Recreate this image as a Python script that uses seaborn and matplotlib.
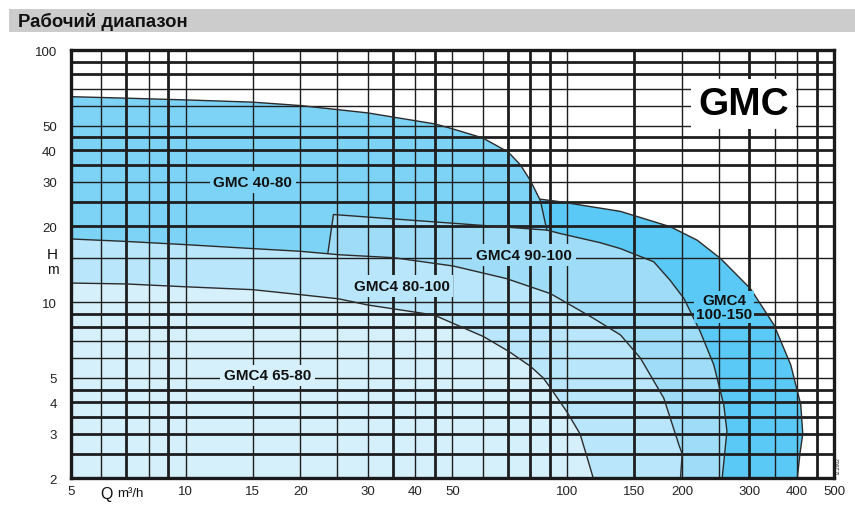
import matplotlib
matplotlib.use("Agg")
import matplotlib.pyplot as plt
from matplotlib.ticker import NullLocator, FixedLocator, FixedFormatter
import seaborn as sns

# ---------------- data ----------------
q_40_80 = [5, 7, 10, 15, 20, 30, 45, 49.3, 60, 70, 75.3, 80, 85, 88.4]
h_40_80 = [65.3, 64.4, 63.4, 62.1, 60.2, 56.3, 50.9, 49.0, 44.8, 39.4, 35.1, 30.4, 25.3, 19.3]

q_100_150 = [85, 95.9, 137.8, 186.3, 219, 252, 302, 348, 385, 409, 414, 407, 400.6]
h_100_150 = [25.6, 25.0, 22.9, 19.9, 17.6, 14.9, 11.3, 8.12, 5.64, 3.92, 3.0, 2.5, 2.0]

q_90_100 = [23.6, 24.4, 88.4, 95.9, 122, 137.8, 168.5, 186, 202, 223, 242, 257, 262, 254.6]
h_90_100 = [15.7, 22.25, 19.3, 18.7, 17.2, 16.3, 14.45, 12.2, 10.35, 7.64, 5.64, 3.92, 3.08, 2.0]

q_80_100 = [5, 7, 10, 15, 20, 25.4, 35.1, 50.3, 69.2, 90.4, 117, 137.8, 155.4, 179, 196, 200, 198]
h_80_100 = [17.8, 17.4, 16.9, 16.3, 15.9, 15.4, 15.0, 13.9, 12.4, 10.8, 8.63, 7.41, 6.0, 4.16, 2.72, 2.5, 2.0]

q_65_80 = [5, 7, 10, 15, 20, 25.2, 30, 44.7, 60.3, 70.3, 80.1, 86.5, 90.4, 100, 108, 112, 117]
h_65_80 = [11.9, 11.8, 11.5, 11.2, 10.7, 10.3, 9.74, 8.89, 7.3, 6.37, 5.56, 5.0, 4.56, 3.65, 3.0, 2.5, 2.0]

x_ticks = [5, 10, 15, 20, 30, 40, 50, 100, 150, 200, 300, 400, 500]
y_ticks = [2, 3, 4, 5, 10, 20, 30, 40, 50, 100]

grid_q_thin = [6, 8, 10, 15, 20, 25, 30, 40, 50, 60, 100, 200, 250, 350, 400]
grid_q_thick = [7, 9, 35, 45, 70, 80, 90, 150, 300, 450]
grid_h_thin = [70, 60, 50, 30, 15, 10, 7, 6, 5]
grid_h_thick = [90, 80, 45, 40, 35, 25, 20, 9, 8, 4.5, 4, 3.5, 3, 2.5]

labels = ["GMC 40-80", "GMC4 90-100", "GMC4 80-100", "GMC4 65-80", "GMC4\n100-150"]
label_q = [15, 77, 36.8, 16.4, 257.5]
label_h = [30, 15.4, 11.6, 5.12, 9.56]

# ---------------- style ----------------
sns.set_theme(style="white")
plt.rcParams["font.family"] = ["Liberation Sans", "DejaVu Sans"]

C_4080 = "#7dd3f5"
C_100150 = "#5bc9f5"
C_90100 = "#9edcf7"
C_80100 = "#b9e6fa"
C_6580 = "#d5effb"
GRID = "#1e1e1e"
LINE = "#2b2b2b"

fig = plt.figure(figsize=(8.55, 5.06), dpi=100)
ax = fig.add_axes([0.0827, 0.0528, 0.8928, 0.8464])
ax.set_xscale("log")
ax.set_yscale("log")
ax.set_xlim(5, 500)
ax.set_ylim(2, 100)
ymin = 2


def fill_region(q, h, color):
    xs = list(q) + [q[-1], q[0]]
    ys = list(h) + [ymin, ymin]
    ax.fill(xs, ys, color=color, lw=0, zorder=1)


fill_region(q_100_150, h_100_150, C_100150)
fill_region(q_40_80, h_40_80, C_4080)
fill_region(q_90_100, h_90_100, C_90100)
fill_region(q_80_100, h_80_100, C_80100)
fill_region(q_65_80, h_65_80, C_6580)

for v in grid_q_thin:
    ax.axvline(v, color=GRID, lw=1.0, zorder=2)
for v in grid_q_thick:
    ax.axvline(v, color=GRID, lw=2.0, zorder=2)
for v in grid_h_thin:
    ax.axhline(v, color=GRID, lw=1.0, zorder=2)
for v in grid_h_thick:
    ax.axhline(v, color=GRID, lw=2.0, zorder=2)

for q, h in [(q_40_80, h_40_80), (q_100_150, h_100_150), (q_90_100, h_90_100),
             (q_80_100, h_80_100), (q_65_80, h_65_80)]:
    sns.lineplot(x=q, y=h, sort=False, estimator=None, color=LINE, lw=1.0,
                 ax=ax, zorder=3, legend=False)

label_colors = [C_4080, C_90100, C_80100, C_6580, C_100150]
label_pads = [0.25, 0.25, 0.25, 0.25, 0.12]
for t, q, h, c, p in zip(labels, label_q, label_h, label_colors, label_pads):
    ax.text(q, h, t, ha="center", va="center", fontsize=11, fontweight="bold",
            color="#111111", zorder=5, linespacing=1.0,
            bbox=dict(boxstyle=f"square,pad={p}", fc=c, ec="none"))

ax.text(290, 61, "GMC", ha="center", va="center", fontsize=28, fontweight="bold",
        color="#000000", zorder=5,
        bbox=dict(boxstyle="square,pad=0.18", fc="white", ec="none"))

ax.xaxis.set_major_locator(FixedLocator(x_ticks))
ax.xaxis.set_major_formatter(FixedFormatter([str(v) for v in x_ticks]))
ax.yaxis.set_major_locator(FixedLocator(y_ticks))
ax.yaxis.set_major_formatter(FixedFormatter([str(v) for v in y_ticks]))
ax.xaxis.set_minor_locator(NullLocator())
ax.yaxis.set_minor_locator(NullLocator())
ax.tick_params(axis="x", length=0, labelsize=9.5, labelcolor="#222222", pad=5)
ax.tick_params(axis="y", length=0, labelsize=9.5, labelcolor="#222222", pad=10)
ax.set_xlabel("")
ax.set_ylabel("")
for s in ax.spines.values():
    s.set_visible(True)
    s.set_linewidth(2.4)
    s.set_color("#1a1a1a")
    s.set_zorder(6)

# title bar
fig.patches.append(plt.Rectangle((9 / 855, 1 - 33.3 / 506), 1 - 9 / 855, 23.3 / 506,
                                 transform=fig.transFigure, fc="#cccccc", ec="none",
                                 zorder=0))
fig.text(18 / 855, 1 - 26.7 / 506, "Рабочий диапазон", fontsize=13.3,
         fontweight="bold", color="#111111", va="baseline", ha="left")

# axis labels
fig.text(52.7 / 855, 1 - 255 / 506, "H", fontsize=11, ha="center", va="center",
         color="#111111")
fig.text(52.7 / 855, 1 - 270.5 / 506, "m", fontsize=10, ha="center", va="center",
         color="#111111")
fig.text(106.5 / 855, 1 - 494.5 / 506, "Q", fontsize=11.5, ha="center", va="center",
         color="#111111")
fig.text(117 / 855, 1 - 494 / 506, "m³/h", fontsize=9.5, ha="left", va="center",
         color="#111111")
fig.text(838.5 / 855, 1 - 466 / 506, "72.2002", fontsize=3.5, rotation=90,
         ha="center", va="center", color="#111111")

fig.savefig("out.png", dpi=100)
